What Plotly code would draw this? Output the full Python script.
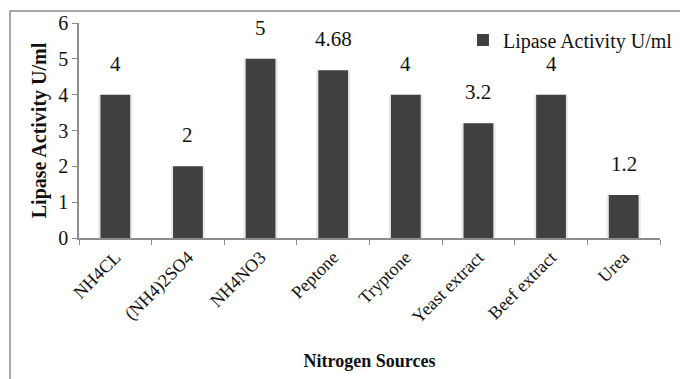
import plotly.graph_objects as go

# Lipase activity for each nitrogen source
sources = ["NH4CL", "(NH4)2SO4", "NH4NO3", "Peptone", "Tryptone",
           "Yeast extract", "Beef extract", "Urea"]
activity = [4, 2, 5, 4.68, 4, 3.2, 4, 1.2]
value_labels = ["4", "2", "5", "4.68", "4", "3.2", "4", "1.2"]
y_ticks = [0, 1, 2, 3, 4, 5, 6]

W, H = 680, 379
L, R, T, B = 79, 20, 23, 141
pw, ph = W - L - R, H - T - B

serif = "Times New Roman"
bar_color = "#404040"

fig = go.Figure()

# soft halo behind each bar
fig.add_trace(go.Bar(
    x=sources, y=activity, width=0.47,
    marker=dict(color="#e9e9e9", line=dict(width=0)),
    showlegend=False, hoverinfo="skip"))

fig.add_trace(go.Bar(
    x=sources, y=activity, width=0.41, name="Lipase Activity U/ml",
    marker=dict(color=bar_color, line=dict(width=0))))

# value labels above the bars
for s, v, t in zip(sources, activity, value_labels):
    fig.add_annotation(x=s, y=v, text=t, showarrow=False,
                       yanchor="bottom", yshift=17,
                       font=dict(family=serif, size=21, color="#111"))

# chart-area border
fig.add_shape(type="rect", xref="paper", yref="paper",
              x0=(10 - L) / pw, x1=(W + 5 - L) / pw,
              y0=-(B + 5) / ph, y1=1 + (T - 11) / ph,
              line=dict(color="#8c8c8c", width=1.5), layer="below")

fig.update_layout(
    width=W, height=H,
    margin=dict(l=L, r=R, t=T, b=B, autoexpand=False),
    paper_bgcolor="white", plot_bgcolor="white",
    barmode="overlay",
    font=dict(family=serif, size=18, color="#111"),
    legend=dict(xref="container", yref="container",
                x=0.997, y=1 - 40 / H, xanchor="right", yanchor="middle",
                font=dict(family=serif, size=20, color="#111"),
                bgcolor="rgba(0,0,0,0)", itemwidth=30),
    xaxis=dict(
        automargin=False,
        tickangle=-45, tickson="boundaries", ticks="outside", ticklen=5,
        tickcolor="#8c8c8c", showline=True, linecolor="#8c8c8c", linewidth=1.5,
        tickfont=dict(family=serif, size=18, color="#111"),
        title=dict(text="<b>Nitrogen Sources</b>", standoff=28,
                   font=dict(family=serif, size=18, color="#111")),
        showgrid=False),
    yaxis=dict(
        automargin=False,
        range=[0, 6], tickvals=y_ticks, ticks="outside", ticklen=5,
        tickcolor="#8c8c8c", showline=True, linecolor="#8c8c8c", linewidth=1.5,
        tickfont=dict(family=serif, size=20, color="#111"),
        title=dict(text="<b>Lipase Activity U/ml</b>", standoff=6,
                   font=dict(family=serif, size=20, color="#111")),
        showgrid=False, zeroline=False),
)

fig.write_html("out.html")
